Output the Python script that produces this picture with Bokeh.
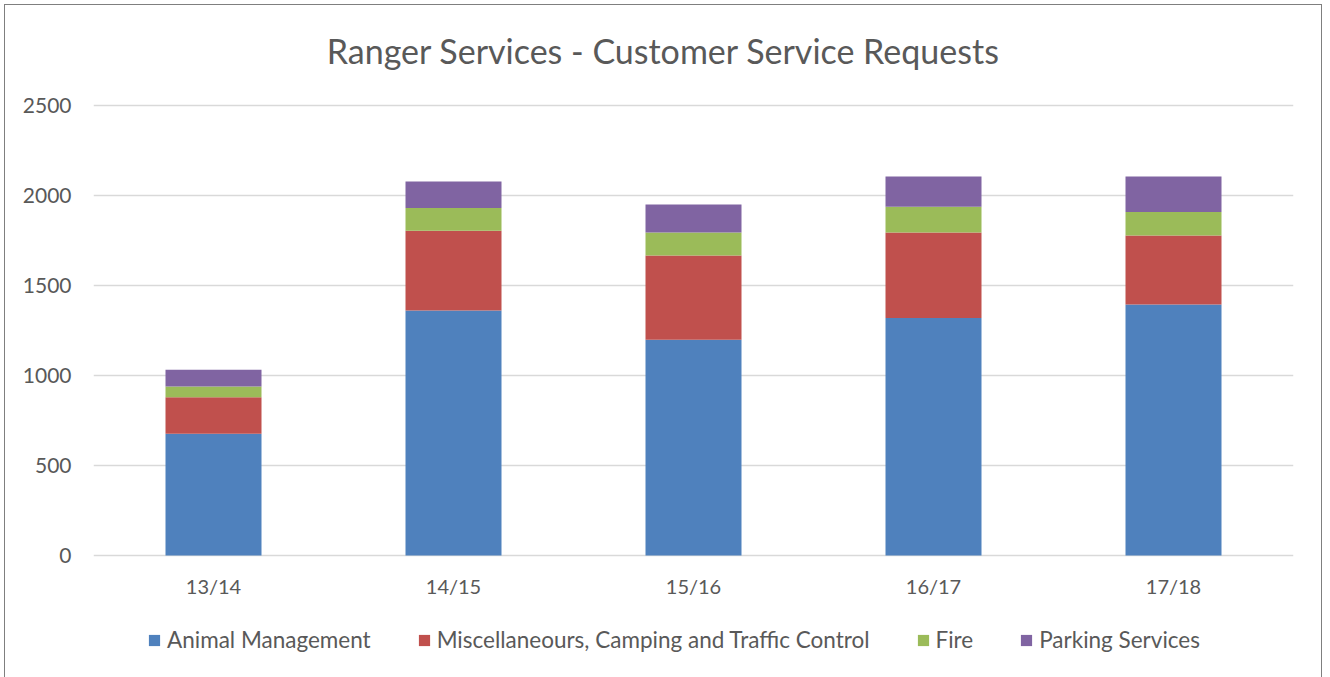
from bokeh.plotting import figure
from bokeh.models import ColumnDataSource, Legend, LegendItem, Range1d, FactorRange, FixedTicker, Label
from bokeh.core.properties import value
from bokeh.embed import file_html
from bokeh.resources import INLINE

title = "Ranger Services - Customer Service Requests"
years = ["13/14", "14/15", "15/16", "16/17", "17/18"]
animal = [676, 1361, 1198, 1320, 1394]
misc = [203, 443, 469, 474, 384]
fire = [60, 126, 127, 143, 131]
parking = [93, 148, 156, 169, 197]
y_ticks = [0, 500, 1000, 1500, 2000, 2500]

series = ["animal", "misc", "fire", "parking"]
labels = ["Animal Management", "Miscellaneours, Camping and Traffic Control", "Fire", "Parking Services"]
colors = ["#4F81BD", "#C0504D", "#9BBB59", "#8064A2"]

src = ColumnDataSource(dict(years=years, animal=animal, misc=misc, fire=fire, parking=parking))

FONT = "Lato"
TXT = "#595959"

# plot scale: 450 px for the 0..2500 value axis; the frame is extended above
# (title area) and below (category labels + legend)
PX = 2500 / 450.0
Y_MAX = 2500 + 100 * PX
Y_MIN = -117 * PX

p = figure(x_range=FactorRange(*years), y_range=Range1d(Y_MIN, Y_MAX),
           frame_width=1200, frame_height=667, output_backend="svg", toolbar_location=None,
           min_border_left=88, min_border_right=28, min_border_top=0, min_border_bottom=10)
p.x_range.range_padding = 0
p.x_range.factor_padding = 0

renderers = p.vbar_stack(series, x="years", width=0.4, source=src, color=colors,
                         line_color=None)

# category labels
p.text(x="years", y=-30 * PX, text="years", source=src, text_align="center",
       text_baseline="middle", text_font=value(FONT), text_font_size="20px",
       text_color=TXT)

# chart title
p.add_layout(Label(x=570, y=622, x_units="screen", y_units="screen", text=title,
                   text_align="center", text_baseline="middle", text_font=FONT,
                   text_font_size="34px", text_color=TXT))

legend = Legend(items=[LegendItem(label=l, renderers=[r]) for l, r in zip(labels, renderers)],
                orientation="horizontal", location=(54, 19),
                label_text_font=FONT, label_text_font_size="22.5px", label_text_color=TXT,
                glyph_width=14, glyph_height=14, label_standoff=6, spacing=46,
                border_line_color=None, background_fill_alpha=0, padding=0, margin=0)
p.add_layout(legend, "center")

p.yaxis.ticker = FixedTicker(ticks=y_ticks)
p.yaxis.major_label_text_font = FONT
p.yaxis.major_label_text_font_size = "21px"
p.yaxis.major_label_text_color = TXT
p.yaxis.major_label_standoff = 16
p.yaxis.axis_line_color = None
p.yaxis.major_tick_line_color = None
p.yaxis.minor_tick_line_color = None

p.xaxis.visible = False

p.xgrid.grid_line_color = None
p.ygrid.grid_line_color = "#D9D9D9"
p.ygrid.grid_line_width = 1.5
p.outline_line_color = None
p.styles = {"border": "1px solid #7F7F7F", "margin": "4px 0 0 4px"}

open("out.html", "w").write(file_html(p, INLINE))
